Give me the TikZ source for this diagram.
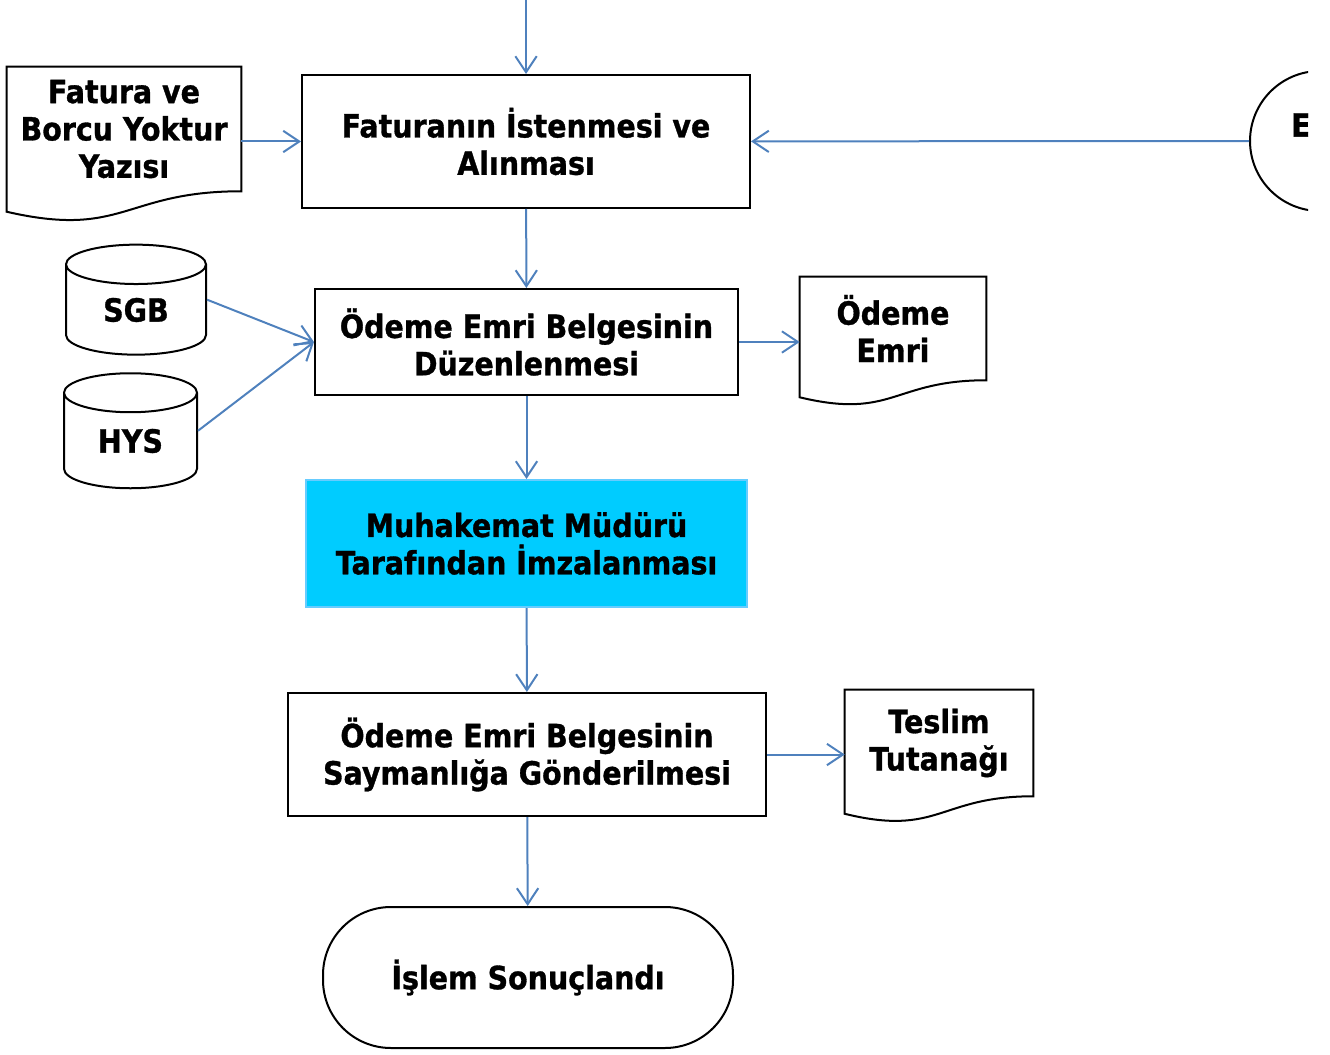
\documentclass[tikz,border=0pt]{standalone}
\usepackage{fontspec}
\setmainfont{DejaVu Sans}[FakeStretch=0.89, BoldFeatures={FakeBold=1}]
\usetikzlibrary{arrows.meta, positioning, calc, shapes.geometric}
\definecolor{flow}{RGB}{79,129,189}
\definecolor{sky}{RGB}{0,204,255}
\definecolor{skyedge}{RGB}{102,204,255}
\newlength\px
\setlength\px{0.75pt}

% document symbol: rectangle part is the node, the wavy foot is added below it
\newcommand\docshape[1]{%
  \draw[line width=1.5pt] ($(#1.south west)!-0.1646!(#1.north west)$) -- (#1.north west) -- (#1.north east) -- (#1.south east)
    .. controls (#1.south) and ($(#1.south)!-0.381!(#1.north)$) .. cycle;}

\tikzset{
  txt/.style={font=\fontsize{24}{28}\selectfont\bfseries, align=center, inner sep=0pt},
  box/.style={txt, draw, line width=1.5pt, rectangle},
  doc/.style={txt, rectangle},
  db/.style={txt, draw, line width=1.5pt, cylinder, shape border rotate=90, aspect=0.6},
  flowline/.style={draw=flow, line width=1.5pt, -{Straight Barb[length=12pt,width=16pt]}}
}

\begin{document}
\begin{tikzpicture}[x=1\px, y=-1\px]
  \useasboundingbox (0,0) rectangle (1330,1055);

  % main steps
  \node[box, minimum width=448*\px, minimum height=133*\px] (ask) at (526,141.5) {Faturanın İstenmesi ve\\Alınması};
  \node[box, minimum width=423*\px, minimum height=106*\px] (prep) at (526.5,342) {Ödeme Emri Belgesinin\\Düzenlenmesi};
  \node[box, draw=skyedge, fill=sky, minimum width=441*\px, minimum height=127*\px] (sign) at (526.5,543.5) {Muhakemat Müdürü\\Tarafından İmzalanması};
  \node[box, minimum width=478*\px, minimum height=123*\px] (send) at (527,754.5) {Ödeme Emri Belgesinin\\Saymanlığa Gönderilmesi};
  \node[box, rounded corners=68*\px, minimum width=410*\px, minimum height=141*\px] (done) at (528,977.5) {İşlem Sonuçlandı};

  % documents
  \node[doc, minimum width=234*\px, minimum height=124*\px] (invoice) at (124,129) {Fatura ve\\Borcu Yoktur\\Yazısı};
  \docshape{invoice}
  \node[doc, minimum width=186*\px, minimum height=103*\px] (order) at (893,328.5) {Ödeme\\Emri};
  \docshape{order}
  \node[doc, minimum width=188*\px, minimum height=106*\px] (receipt) at (939,743) {Teslim\\Tutanağı};
  \docshape{receipt}

  % systems
  \node[db, minimum width=140*\px, minimum height=110*\px] (sgb) at (136,310) {SGB};
  \node[db, minimum width=133*\px, minimum height=115*\px] (hys) at (130.5,441) {HYS};

  % connector cut by the page edge
  \begin{scope}
    \clip (0,0) rectangle (1308,1055);
    \node[circle, draw, line width=1.5pt, minimum size=140*\px] (ext) at (1320,141) {};
    \node[txt, anchor=west] (extlbl) at (1291,125) {E};
  \end{scope}
  \coordinate (top) at (ask.north |- 0,0);

  \draw[flowline] (top) -- (ask);
  \draw[flowline] (ext) -- (ask);
  \draw[flowline] (invoice.east |- ask) -- (ask);
  \draw[flowline] (ask) -- (prep);
  \draw[flowline] (sgb.east |- sgb.shape center) -- (prep.west);
  \draw[flowline] (hys.east |- hys.shape center) -- (prep.west);
  \draw[flowline] (prep) -- (order.west |- prep);
  \draw[flowline] (prep) -- (sign);
  \draw[flowline] (sign) -- (send);
  \draw[flowline] (send) -- (receipt.west |- send);
  \draw[flowline] (send) -- (done);
\end{tikzpicture}
\end{document}
